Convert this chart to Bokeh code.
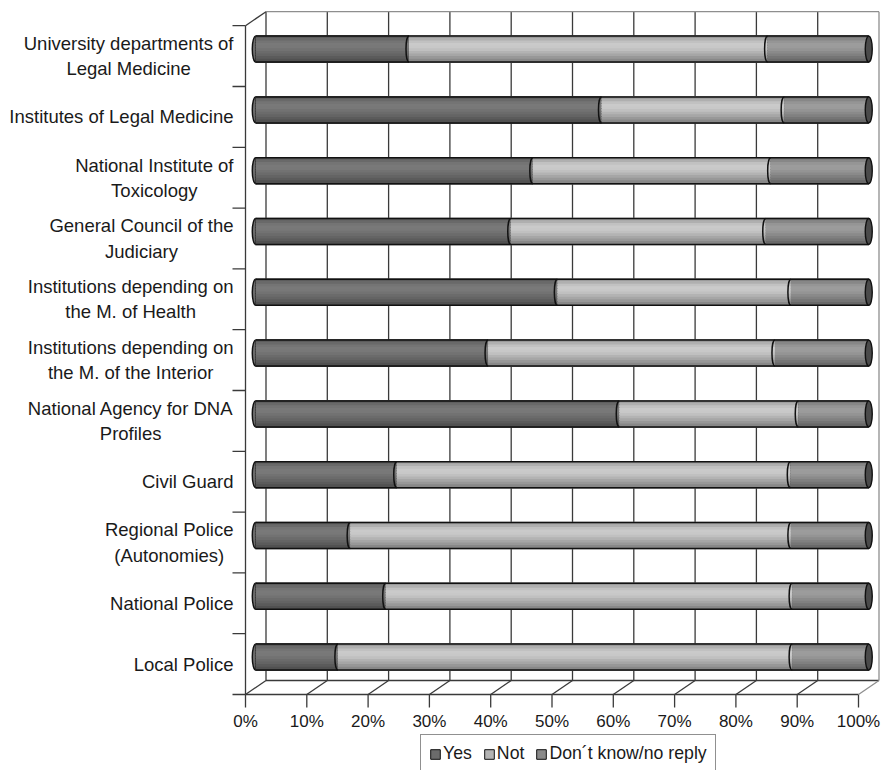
import numpy as np
from bokeh.plotting import figure
from bokeh.models import Range1d, Legend, LegendItem, ColumnDataSource
from bokeh.core.properties import value
from bokeh.embed import file_html
from bokeh.resources import INLINE

# ---------------- data ----------------
CATEGORIES = [
    "University departments of\nLegal Medicine",
    "Institutes of Legal Medicine",
    "National Institute of\nToxicology",
    "General Council of the\nJudiciary",
    "Institutions depending on\nthe M. of Health",
    "Institutions depending on\nthe M. of the Interior",
    "National Agency for DNA\nProfiles",
    "Civil Guard",
    "Regional Police\n(Autonomies)",
    "National Police",
    "Local Police",
]
SERIES = ["Yes", "Not", "Don\u00b4t know/no reply"]
YES = [25.0, 56.4, 45.2, 41.6, 49.2, 37.9, 59.3, 23.0, 15.4, 21.2, 13.4]
NOT = [58.5, 29.8, 38.8, 41.6, 38.1, 46.8, 29.2, 64.2, 71.9, 66.3, 74.1]
DK = [16.5, 13.8, 16.0, 16.8, 12.7, 15.3, 11.5, 12.8, 12.7, 12.5, 12.5]
TICKS = [0, 10, 20, 30, 40, 50, 60, 70, 80, 90, 100]
TICK_LABELS = ["0%", "10%", "20%", "30%", "40%", "50%", "60%", "70%", "80%", "90%", "100%"]

# ---------------- style ----------------
FONT = "Liberation Sans"
CAT_SIZE = 18.5
BASE = ["#6b6b6b", "#b3b3b3", "#8a8a8a"]
SHADE = [0.86, 0.98, 1.08, 1.13, 1.12, 1.07, 1.0, 0.93, 0.85, 0.76]
CAP = "#4a4a4a"
DARK = "#3a3a3a"
LIGHT = "#8e8e8e"
W_PX, H_PX = 884, 770
PXX = 6.13       # px per percent
CATPX = 60.8     # px per category
ORIGIN_PX = 245  # front 0% from the left edge
FLOOR_PX = 694   # front floor from the top edge
DX = 20.5 / PXX
DY = 14.0 / CATPX
BX, BY = DX / 2, DY / 2
XT = 13.0 / PXX
YT = 13.0 / CATPX
BAR_H = 26.0 / CATPX
LABEL_RIGHT_PX = 233
TICKLAB_OFF = 26.5 / CATPX

# approximate advance widths (per 1000 em) of Liberation Sans, to centre wrapped lines
CW = {' ': 278, '(': 333, ')': 333, '.': 278, 'A': 667, 'C': 722, 'D': 722, 'G': 778, 'H': 722,
      'I': 278, 'J': 500, 'L': 556, 'M': 833, 'N': 722, 'P': 667, 'R': 722, 'T': 611, 'U': 722,
      'a': 556, 'b': 556, 'c': 500, 'd': 556, 'e': 556, 'f': 278, 'g': 556, 'h': 556, 'i': 222,
      'j': 222, 'k': 500, 'l': 222, 'm': 833, 'n': 556, 'o': 556, 'p': 556, 'r': 333, 's': 500,
      't': 278, 'u': 556, 'v': 500, 'x': 500, 'y': 500}


def text_w(s, size):
    return max(sum(CW.get(c, 556) for c in line) for line in s.split("\n")) * size / 1000.0


def shade(hexc, f):
    v = int(hexc[1:3], 16)
    v = max(0, min(255, int(round(v * f))))
    return "#%02x%02x%02x" % (v, v, v)


n = len(CATEGORIES)
yfront = np.array([n - 1 - i for i in range(n)], dtype=float)
ybar = yfront + BY
yes = np.array(YES)
no = np.array(NOT)
dk = np.array(DK)
starts = [np.zeros(n), yes, yes + no]
ends = [yes, yes + no, yes + no + dk]

p = figure(width=W_PX, height=H_PX, output_backend="svg", toolbar_location=None,
           x_range=Range1d(-ORIGIN_PX / PXX, (W_PX - ORIGIN_PX) / PXX),
           y_range=Range1d(-0.5 - (H_PX - FLOOR_PX) / CATPX, -0.5 + FLOOR_PX / CATPX),
           x_axis_location=None, y_axis_location=None,
           min_border=0)
p.grid.visible = False
p.outline_line_color = None
p.background_fill_color = "white"

# ---------------- 3D frame ----------------
dx0, dy0, dx1, dy1 = [], [], [], []
for t in TICKS[:-1]:
    dx0 += [t + DX, t]; dy0 += [-0.5 + DY, -0.5]
    dx1 += [t + DX, t + DX]; dy1 += [10.5 + DY, -0.5 + DY]
dx0 += [0, 0, 0, DX]; dy0 += [-0.5, -0.5, 10.5, -0.5 + DY]
dx1 += [100, 0, DX, 100 + DX]; dy1 += [-0.5, 10.5, 10.5 + DY, -0.5 + DY]
for k in range(n + 1):          # category dividers on the left
    dx0.append(-XT); dy0.append(k - 0.5); dx1.append(0); dy1.append(k - 0.5)
for t in TICKS:                 # value ticks below the floor
    dx0.append(t); dy0.append(-0.5); dx1.append(t); dy1.append(-0.5 - YT)
p.segment(x0=dx0, y0=dy0, x1=dx1, y1=dy1, line_color=DARK, line_width=1.3)

T = TICKS[-1]
p.segment(x0=[DX, T + DX, T], y0=[10.5 + DY, -0.5 + DY, -0.5],
          x1=[T + DX, T + DX, T + DX], y1=[10.5 + DY, 10.5 + DY, -0.5 + DY],
          line_color=LIGHT, line_width=1.3)

# ---------------- texts ----------------
cx = [(LABEL_RIGHT_PX - text_w(c, CAT_SIZE) / 2 - ORIGIN_PX) / PXX for c in CATEGORIES]
p.text(x=cx, y=yfront, text=CATEGORIES, text_align="center", text_baseline="middle",
       text_font=value(FONT), text_font_size="%spx" % CAT_SIZE, text_color="#1a1a1a",
       text_line_height=1.2)
p.text(x=TICKS, y=[-0.5 - TICKLAB_OFF] * len(TICKS), text=TICK_LABELS,
       text_align="center", text_baseline="middle",
       text_font=value(FONT), text_font_size="17px", text_color="#1a1a1a")

# ---------------- bars ----------------
p.ellipse(x=np.full(n, BX), y=ybar, width=7, height=BAR_H, width_units="screen",
          fill_color=BASE[0], line_color="#111111", line_width=1.4)

base_renderers = []
for s in range(3):
    r = p.hbar(y=ybar, left=starts[s] + BX, right=ends[s] + BX, height=BAR_H,
               fill_color=BASE[s], line_color="#111111", line_width=1)
    base_renderers.append(r)

NS = len(SHADE)
sh = BAR_H / NS
sy, sl, sr, sc = [], [], [], []
for s in range(3):
    for k, f in enumerate(SHADE):
        col = shade(BASE[s], f)
        for i in range(n):
            sy.append(ybar[i] + BAR_H / 2 - (k + 0.5) * sh)
            sl.append(starts[s][i] + BX)
            sr.append(ends[s][i] + BX)
            sc.append(col)
p.hbar(source=ColumnDataSource(dict(y=sy, l=sl, r=sr, c=sc)),
       y="y", left="l", right="r", height=sh * 1.6, fill_color="c", line_color=None)

top = ybar + BAR_H / 2
bot = ybar - BAR_H / 2
p.segment(x0=np.concatenate([np.full(n, BX), np.full(n, BX)]), y0=np.concatenate([top, bot]),
          x1=np.concatenate([ends[2] + BX, ends[2] + BX]), y1=np.concatenate([top, bot]),
          line_color="#111111", line_width=1.5)

k4 = 4.0 / PXX
jx, jy0, jy1 = [], [], []
for s in (1, 2):
    for i in range(n):
        jx.append(starts[s][i] + BX); jy0.append(top[i]); jy1.append(bot[i])
jx = np.array(jx)
p.bezier(x0=jx, y0=jy0, x1=jx, y1=jy1, cx0=jx - k4, cy0=jy0, cx1=jx - k4, cy1=jy1,
         line_color="#111111", line_width=1.5)

p.ellipse(x=ends[2] + BX, y=ybar, width=7, height=BAR_H, width_units="screen",
          fill_color=CAP, line_color="#111111", line_width=1.4)

# ---------------- legend ----------------
legend = Legend(items=[LegendItem(label=SERIES[s], renderers=[base_renderers[s]]) for s in range(3)],
                orientation="horizontal", location=(420, -3),
                border_line_color="#222222", border_line_width=1,
                background_fill_color="white", background_fill_alpha=1,
                padding=8, spacing=11, margin=0, glyph_width=12, glyph_height=12,
                label_standoff=2, label_text_font=FONT, label_text_font_size="17.7px",
                label_height=16, label_text_color="#1a1a1a")
p.add_layout(legend)

open("out.html", "w").write(file_html(p, INLINE))
